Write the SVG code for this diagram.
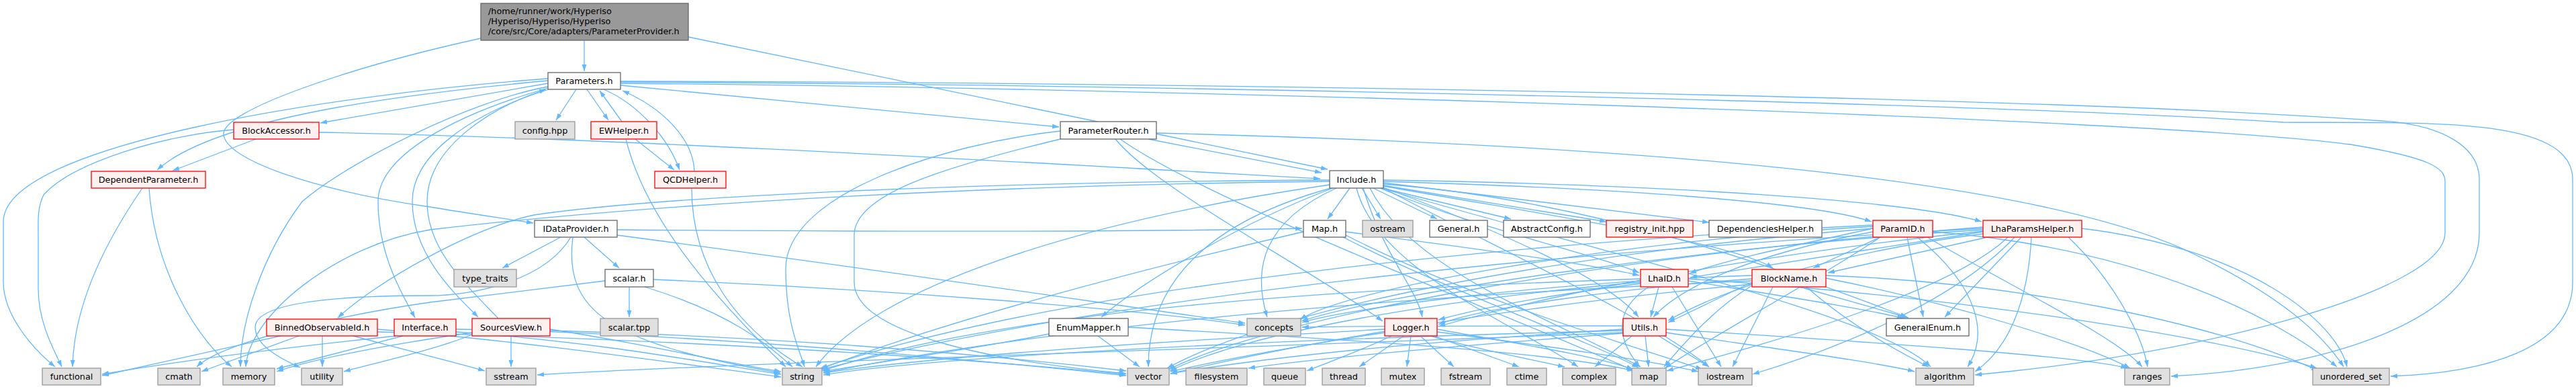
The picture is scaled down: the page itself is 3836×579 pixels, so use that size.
<svg xmlns="http://www.w3.org/2000/svg" width="3836" height="579" viewBox="0 0 3836 579">
<defs>
<marker id="a" markerWidth="11" markerHeight="8" refX="10" refY="4" orient="auto" markerUnits="userSpaceOnUse"><path d="M0,0.5 L10,4 L0,7.5 z" fill="#63b8ff"/></marker>
<style>
.e path{fill:none;stroke:#63b8ff;stroke-width:1.3;marker-end:url(#a)}
.w rect{fill:#ffffff;stroke:#666666;stroke-width:1.3}
.r rect{fill:#fff0f0;stroke:#ff0000;stroke-width:1.3}
.g rect{fill:#e0e0e0;stroke:#999999;stroke-width:1.3}
.k rect{fill:#999999;stroke:#666666;stroke-width:1.3}
text{font-family:"DejaVu Sans",sans-serif;font-size:12.8px;fill:#000000;text-anchor:middle}
.k text{text-anchor:start}
</style>
</defs>
<rect width="3836" height="579" fill="#ffffff"/>
<g id="edges" class="e">
<path d="M870,60 L870,106"/>
<path d="M716,57 C520,100 330,165 333,200 C336,240 480,285 640,308 C700,318 750,325 794,332"/>
<path d="M1025,55 L1977,252"/>
<path d="M858,133 L828,179"/>
<path d="M874,133 L906,179"/>
<path d="M926,181 L893,135"/>
<path d="M899,133 C950,155 995,205 1012,253"/>
<path d="M1034,255 C1032,205 985,160 927,135"/>
<path d="M946,207 L1004,253"/>
<path d="M816,124 L477,183"/>
<path d="M816,120 C600,140 320,175 234,253"/>
<path d="M381,207 L257,254"/>
<path d="M924,127 L1577,189"/>
<path d="M816,117 C500,140 5,215 5,330 L5,420 C5,470 50,520 82,546"/>
<path d="M816,129 C700,150 520,240 450,300 C390,380 358,480 358,546"/>
<path d="M816,131 C680,170 563,230 563,300 C563,380 600,440 618,473"/>
<path d="M817,133 C700,170 614,230 614,300 C614,380 680,440 712,472"/>
<path d="M742,474 C690,420 636,370 636,300 C636,220 730,160 813,133"/>
<path d="M924,122 C1600,125 2900,150 3400,182 C3600,184 3831,170 3831,267 L3831,420 C3831,520 3700,555 3560,560"/>
<path d="M924,121 C1600,122 3000,140 3547,180 C3640,186 3692,220 3692,267 L3692,347 C3692,480 3450,550 3233,560"/>
<path d="M924,124 C1700,130 3200,175 3500,215 C3620,235 3641,250 3641,270 L3641,347 C3641,430 3300,520 3000,552 L2941,558"/>
<path d="M2010,280 L1977,326"/>
<path d="M2028,280 L2056,326"/>
<path d="M2045,280 L2140,326"/>
<path d="M2058,280 L2250,326"/>
<path d="M2060,276 L2392,330"/>
<path d="M2060,272 L2545,331"/>
<path d="M2060,270 C2400,280 2700,300 2787,330"/>
<path d="M2060,268 C2500,275 2850,300 2951,330"/>
<path d="M2060,277 C2300,320 2580,360 2640,399"/>
<path d="M2055,280 C2200,340 2380,380 2441,406"/>
<path d="M2030,280 C2060,380 2110,430 2118,472"/>
<path d="M2060,279 C2250,350 2400,420 2440,472"/>
<path d="M1985,280 C1850,330 1700,420 1640,472"/>
<path d="M1990,280 C1880,330 1865,400 1887,472"/>
<path d="M1982,280 C1800,330 1710,420 1710,546"/>
<path d="M1980,275 C1600,330 1300,430 1215,546"/>
<path d="M1980,270 C1500,275 1000,300 640,342 C500,365 370,470 366,546"/>
<path d="M1980,268 C1500,270 1000,290 795,320 C700,340 560,420 503,473"/>
<path d="M2060,274 C2400,300 2700,420 2840,472"/>
<path d="M2040,280 C2100,400 2300,470 2443,546"/>
<path d="M2060,280 C2250,380 2450,470 2545,546"/>
<path d="M2020,280 C2050,400 2250,480 2350,546"/>
<path d="M2060,281 C2400,380 2800,470 2875,546"/>
<path d="M2072,500 C2020,525 1975,540 1946,552"/>
<path d="M2090,500 L2024,546"/>
<path d="M2101,500 L2095,546"/>
<path d="M2115,500 L2165,546"/>
<path d="M2135,500 L2262,546"/>
<path d="M2062,490 C1700,510 1400,530 1226,555"/>
<path d="M2062,495 C1900,520 1800,540 1743,553"/>
<path d="M2140,490 C2250,510 2380,530 2432,550"/>
<path d="M2140,494 C2300,515 2450,535 2529,553"/>
<path d="M2130,500 C2200,520 2280,535 2330,546"/>
<path d="M2450,500 L2455,546"/>
<path d="M2470,500 L2545,546"/>
<path d="M2430,500 L2375,546"/>
<path d="M2417,490 C2100,510 1900,530 1743,556"/>
<path d="M2417,492 C1900,505 1400,530 1226,558"/>
<path d="M2417,496 C2100,520 1950,535 1859,548"/>
<path d="M2417,495 C1800,520 1100,540 800,558"/>
<path d="M2481,495 C2650,520 2800,540 2851,553"/>
<path d="M2481,490 C2800,510 3100,530 3168,548"/>
<path d="M2417,485 C2200,485 2000,485 1939,487"/>
<path d="M2470,427 L2458,472"/>
<path d="M2455,427 C2390,470 2420,520 2442,546"/>
<path d="M2490,427 L2563,546"/>
<path d="M2443,415 C2000,430 1500,460 1224,552"/>
<path d="M2514,418 C2650,440 2780,460 2835,474"/>
<path d="M2514,415 C2900,440 3300,500 3450,548"/>
<path d="M2443,420 C2100,450 1850,500 1742,552"/>
<path d="M2443,422 C2300,440 2200,460 2142,476"/>
<path d="M2680,427 L2842,473"/>
<path d="M2640,427 L2580,546"/>
<path d="M2690,427 C2750,480 2820,520 2872,546"/>
<path d="M2609,418 C2100,440 1600,480 1226,555"/>
<path d="M2609,425 C2550,460 2500,520 2478,546"/>
<path d="M2609,420 L2484,480"/>
<path d="M2719,414 C2900,450 3100,510 3172,548"/>
<path d="M2719,410 C3000,420 3300,480 3452,552"/>
<path d="M2609,410 C2300,420 2000,460 1939,480"/>
<path d="M2609,423 C2200,460 1900,520 1743,556"/>
<path d="M2609,415 C2400,430 2200,460 2142,483"/>
<path d="M2800,353 L2700,399"/>
<path d="M2840,353 L2864,472"/>
<path d="M2789,345 C2600,380 2500,430 2462,472"/>
<path d="M2789,340 C2650,370 2560,390 2516,407"/>
<path d="M2855,353 C2950,430 2960,500 2930,546"/>
<path d="M2870,353 C3000,430 3150,500 3190,546"/>
<path d="M2878,345 C3200,370 3400,480 3480,546"/>
<path d="M2789,335 C2300,360 1600,420 1222,548"/>
<path d="M2800,353 C2700,420 2550,500 2479,548"/>
<path d="M2789,340 C2300,380 1900,460 1738,548"/>
<path d="M2789,337 C2400,360 2000,430 1936,476"/>
<path d="M2960,353 L2722,406"/>
<path d="M3010,353 L2896,472"/>
<path d="M2953,345 L2517,413"/>
<path d="M2953,348 C2700,380 2550,440 2484,477"/>
<path d="M3025,353 C3020,450 2990,520 2941,553"/>
<path d="M3080,353 C3150,420 3190,500 3198,546"/>
<path d="M3100,340 C3350,370 3480,480 3495,546"/>
<path d="M2990,353 C2900,440 2600,520 2482,552"/>
<path d="M3000,353 C2900,460 2700,530 2610,557"/>
<path d="M2953,340 C2400,370 1700,430 1222,550"/>
<path d="M2953,338 C2400,380 1900,470 1740,550"/>
<path d="M2953,342 C2500,370 2050,440 1938,478"/>
<path d="M2953,344 C2600,380 2300,440 2142,486"/>
<path d="M2004,345 C2200,370 2380,395 2441,410"/>
<path d="M2000,353 C2150,430 2350,500 2440,547"/>
<path d="M1941,345 C1700,400 1400,480 1220,550"/>
<path d="M2004,350 C2200,450 2450,520 2535,550"/>
<path d="M1635,500 L1697,546"/>
<path d="M1562,497 C1450,520 1300,540 1226,553"/>
<path d="M1680,487 C1900,500 2300,520 2433,552"/>
<path d="M835,353 L748,399"/>
<path d="M870,353 L922,399"/>
<path d="M850,353 C810,420 700,440 640,440 C500,440 380,450 380,487 C380,515 420,535 447,547"/>
<path d="M853,353 C840,460 900,510 1162,555"/>
<path d="M919,350 C1300,400 1700,460 1854,481"/>
<path d="M919,342 C1300,345 1700,345 1939,340"/>
<path d="M937,427 L937,472"/>
<path d="M901,418 L640,450 C500,470 330,510 293,546"/>
<path d="M973,416 C1300,430 1700,460 1854,484"/>
<path d="M960,427 C1100,470 1150,520 1180,546"/>
<path d="M1710,207 L1968,257"/>
<path d="M1722,198 C2400,215 3000,260 3250,370 C3400,440 3460,500 3490,546"/>
<path d="M1579,195 C1400,215 1170,290 1170,400 C1170,480 1190,520 1198,546"/>
<path d="M1579,207 C1400,250 1272,290 1272,350 L1272,420 C1272,500 1500,540 1677,556"/>
<path d="M1668,207 C1800,300 2200,450 2432,551"/>
<path d="M1661,207 C1720,280 1950,400 2059,478"/>
<path d="M475,197 C900,205 1500,240 1966,266"/>
<path d="M348,193 C250,200 110,240 65,290 C55,310 57,330 57,360 L57,430 C57,480 80,520 92,546"/>
<path d="M212,280 C150,370 110,460 108,546"/>
<path d="M222,280 C230,400 290,500 345,546"/>
<path d="M418,500 L152,559"/>
<path d="M445,500 L300,553"/>
<path d="M480,500 L480,546"/>
<path d="M562,490 C800,510 1000,540 1163,561"/>
<path d="M526,500 C600,520 680,540 722,552"/>
<path d="M562,494 C1000,505 1400,530 1676,557"/>
<path d="M590,500 C400,520 250,540 152,557"/>
<path d="M600,500 L412,549"/>
<path d="M679,494 C900,510 1050,540 1163,557"/>
<path d="M679,490 C1000,495 1400,530 1677,559"/>
<path d="M761,500 L761,546"/>
<path d="M703,495 C600,510 480,530 412,553"/>
<path d="M703,498 C650,520 560,540 512,553"/>
<path d="M819,490 C950,510 1080,540 1163,553"/>
<path d="M819,492 C1100,500 1400,520 1677,552"/>
<path d="M932,207 C960,320 1050,430 1170,546"/>
<path d="M1030,280 C1030,400 1100,490 1195,546"/>
</g>
<g id="n_root" class="k"><rect x="716" y="5" width="309" height="55"/><text x="727" y="21">/home/runner/work/Hyperiso</text><text x="727" y="36">/Hyperiso/Hyperiso/Hyperiso</text><text x="727" y="51">/core/src/Core/adapters/ParameterProvider.h</text></g>
<g id="n_parameters" class="w"><rect x="816" y="108" width="108" height="25"/><text x="870" y="125">Parameters.h</text></g>
<g id="n_config" class="g"><rect x="767" y="181" width="89" height="26"/><text x="811.5" y="198.5">config.hpp</text></g>
<g id="n_ewhelper" class="r"><rect x="880" y="181" width="98" height="26"/><text x="929" y="198.5">EWHelper.h</text></g>
<g id="n_qcdhelper" class="r"><rect x="975" y="255" width="106" height="25"/><text x="1028" y="272">QCDHelper.h</text></g>
<g id="n_blockaccessor" class="r"><rect x="348" y="182" width="127" height="25"/><text x="411.5" y="199">BlockAccessor.h</text></g>
<g id="n_dependentparameter" class="r"><rect x="136" y="255" width="170" height="25"/><text x="221" y="272">DependentParameter.h</text></g>
<g id="n_parameterrouter" class="w"><rect x="1579" y="181" width="143" height="26"/><text x="1650.5" y="198.5">ParameterRouter.h</text></g>
<g id="n_include" class="w"><rect x="1980" y="254" width="80" height="26"/><text x="2020" y="271.5">Include.h</text></g>
<g id="n_idataprovider" class="w"><rect x="796" y="328" width="123" height="25"/><text x="857.5" y="345">IDataProvider.h</text></g>
<g id="n_type_traits" class="g"><rect x="676" y="401" width="93" height="26"/><text x="722.5" y="418.5">type_traits</text></g>
<g id="n_scalar_h" class="w"><rect x="901" y="401" width="72" height="26"/><text x="937" y="418.5">scalar.h</text></g>
<g id="n_scalar_tpp" class="g"><rect x="894" y="474" width="86" height="26"/><text x="937" y="491.5">scalar.tpp</text></g>
<g id="n_binnedobservableid" class="r"><rect x="397" y="475" width="165" height="25"/><text x="479.5" y="492">BinnedObservableId.h</text></g>
<g id="n_interface" class="r"><rect x="587" y="475" width="92" height="25"/><text x="633" y="492">Interface.h</text></g>
<g id="n_sourcesview" class="r"><rect x="703" y="474" width="116" height="26"/><text x="761" y="491.5">SourcesView.h</text></g>
<g id="n_enummapper" class="w"><rect x="1562" y="474" width="118" height="26"/><text x="1621" y="491.5">EnumMapper.h</text></g>
<g id="n_concepts" class="g"><rect x="1857" y="474" width="80" height="26"/><text x="1897" y="491.5">concepts</text></g>
<g id="n_map_h" class="w"><rect x="1941" y="328" width="63" height="25"/><text x="1972.5" y="345">Map.h</text></g>
<g id="n_ostream" class="g"><rect x="2029" y="328" width="75" height="25"/><text x="2066.5" y="345">ostream</text></g>
<g id="n_general" class="w"><rect x="2129" y="328" width="86" height="25"/><text x="2172" y="345">General.h</text></g>
<g id="n_abstractconfig" class="w"><rect x="2239" y="328" width="129" height="25"/><text x="2303.5" y="345">AbstractConfig.h</text></g>
<g id="n_registry_init" class="r"><rect x="2392" y="328" width="129" height="25"/><text x="2456.5" y="345">registry_init.hpp</text></g>
<g id="n_dependencieshelper" class="w"><rect x="2545" y="328" width="168" height="25"/><text x="2629" y="345">DependenciesHelper.h</text></g>
<g id="n_paramid" class="r"><rect x="2789" y="328" width="89" height="25"/><text x="2833.5" y="345">ParamID.h</text></g>
<g id="n_lhaparamshelper" class="r"><rect x="2953" y="328" width="147" height="25"/><text x="3026.5" y="345">LhaParamsHelper.h</text></g>
<g id="n_lhaid" class="r"><rect x="2443" y="401" width="71" height="26"/><text x="2478.5" y="418.5">LhaID.h</text></g>
<g id="n_blockname" class="r"><rect x="2609" y="401" width="110" height="26"/><text x="2664" y="418.5">BlockName.h</text></g>
<g id="n_logger" class="r"><rect x="2062" y="474" width="78" height="26"/><text x="2101" y="491.5">Logger.h</text></g>
<g id="n_utils" class="r"><rect x="2417" y="474" width="64" height="26"/><text x="2449" y="491.5">Utils.h</text></g>
<g id="n_generalenum" class="w"><rect x="2809" y="474" width="123" height="26"/><text x="2870.5" y="491.5">GeneralEnum.h</text></g>
<g id="n_functional" class="g"><rect x="63" y="548" width="87" height="25"/><text x="106.5" y="565">functional</text></g>
<g id="n_cmath" class="g"><rect x="235" y="548" width="63" height="25"/><text x="266.5" y="565">cmath</text></g>
<g id="n_memory" class="g"><rect x="332" y="548" width="77" height="25"/><text x="370.5" y="565">memory</text></g>
<g id="n_utility" class="g"><rect x="449" y="548" width="61" height="25"/><text x="479.5" y="565">utility</text></g>
<g id="n_sstream" class="g"><rect x="724" y="548" width="74" height="25"/><text x="761" y="565">sstream</text></g>
<g id="n_string" class="g"><rect x="1165" y="548" width="59" height="25"/><text x="1194.5" y="565">string</text></g>
<g id="n_vector" class="g"><rect x="1679" y="548" width="62" height="25"/><text x="1710" y="565">vector</text></g>
<g id="n_filesystem" class="g"><rect x="1766" y="548" width="91" height="25"/><text x="1811.5" y="565">filesystem</text></g>
<g id="n_queue" class="g"><rect x="1882" y="548" width="62" height="25"/><text x="1913" y="565">queue</text></g>
<g id="n_thread" class="g"><rect x="1969" y="548" width="64" height="25"/><text x="2001" y="565">thread</text></g>
<g id="n_mutex" class="g"><rect x="2057" y="548" width="64" height="25"/><text x="2089" y="565">mutex</text></g>
<g id="n_fstream" class="g"><rect x="2146" y="548" width="73" height="25"/><text x="2182.5" y="565">fstream</text></g>
<g id="n_ctime" class="g"><rect x="2244" y="548" width="59" height="25"/><text x="2273.5" y="565">ctime</text></g>
<g id="n_complex" class="g"><rect x="2327" y="548" width="79" height="25"/><text x="2366.5" y="565">complex</text></g>
<g id="n_map" class="g"><rect x="2430" y="548" width="51" height="25"/><text x="2455.5" y="565">map</text></g>
<g id="n_iostream" class="g"><rect x="2529" y="548" width="80" height="25"/><text x="2569" y="565">iostream</text></g>
<g id="n_algorithm" class="g"><rect x="2853" y="548" width="86" height="25"/><text x="2896" y="565">algorithm</text></g>
<g id="n_ranges" class="g"><rect x="3164" y="548" width="67" height="25"/><text x="3197.5" y="565">ranges</text></g>
<g id="n_unordered_set" class="g"><rect x="3444" y="548" width="114" height="25"/><text x="3501" y="565">unordered_set</text></g>
</svg>
